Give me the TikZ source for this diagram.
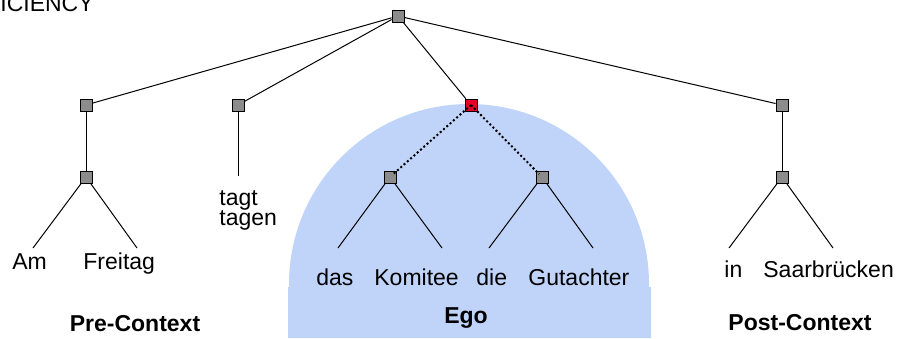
\documentclass[tikz,border=0pt]{standalone}
\usepackage{fontspec}
\setmainfont{Liberation Sans}
\usetikzlibrary{calc}
\definecolor{egoblau}{RGB}{192,212,250}
\definecolor{knotengrau}{RGB}{140,140,140}
\definecolor{knotenrot}{RGB}{230,0,40}
\tikzset{
knoten/.style = {draw=black, fill=knotengrau, minimum size=6pt, inner sep=0pt, line width=0.4pt}
}
\tikzset{
kante/.style = {line width=0.5pt}
}
\tikzset{
punktiert/.style = {line width=1pt, dash pattern=on 1pt off 1.2pt, shorten >=2pt}
}
\tikzset{
wort/.style = {anchor=base west, inner sep=0pt, font=\fontsize{11.5}{13.8}\selectfont}
}
\tikzset{
titel/.style = {anchor=base, inner sep=0pt, font=\fontsize{11.5}{13.8}\selectfont\bfseries}
}
\begin{document}
\begin{tikzpicture}[x=0.5pt,y=-0.5pt]
        \useasboundingbox (0,0) rectangle (900,338);

        % Ego-Bereich
        \fill[egoblau] (289,284) arc (180:360:180) -- (649,287) -- (651,287) -- (651,338)
            -- (288,338) -- (288,287) -- (289,287) -- cycle;

        \node[wort] (kopf) at (0,11) {ICIENCY};

        % Knoten
        \node[knoten] (wurzel) at (398,16) {};
        \node[knoten] (vf) at (86,105) {};
        \node[knoten] (vk) at (238,105) {};
        \node[knoten, fill=knotenrot] (ego) at (471,105) {};
        \node[knoten] (nk) at (782,105) {};
        \node[knoten] (vfa) at (86,177) {};
        \node[knoten] (egol) at (390,177) {};
        \node[knoten] (egor) at (542,177) {};
        \node[knoten] (nka) at (782,177) {};

        % Blattenden
        \coordinate (am) at (33,248);
        \coordinate (freitag) at (137,248);
        \coordinate (tagt) at (238,176);
        \coordinate (das) at (338,248);
        \coordinate (komitee) at (442,248);
        \coordinate (die) at (489,248);
        \coordinate (gutachter) at (593,248);
        \coordinate (in) at (729,248);
        \coordinate (saar) at (833,248);

        \draw[kante] (wurzel) -- (vf);
        \draw[kante] (wurzel) -- (vk);
        \draw[kante] (wurzel) -- (ego);
        \draw[kante] (wurzel) -- (nk);
        \draw[kante] (vf) -- (vfa);
        \draw[kante] (vk) -- (tagt);
        \draw[kante] (nk) -- (nka);
        \draw[kante] (vfa) -- (am);
        \draw[kante] (vfa) -- (freitag);
        \draw[kante] (egol) -- (das);
        \draw[kante] (egol) -- (komitee);
        \draw[kante] (egor) -- (die);
        \draw[kante] (egor) -- (gutachter);
        \draw[kante] (nka) -- (in);
        \draw[kante] (nka) -- (saar);

        \draw[punktiert] (ego.center) -- (egol.center);
        \draw[punktiert] (ego.center) -- (egor.center);

        % Woerter
        \node[wort] (w-am) at (12,269) {Am};
        \node[wort] (w-freitag) at (83,269) {Freitag};
        \node[wort] (w-tagt) at (219,205) {tagt};
        \node[wort] (w-tagen) at (219,225) {tagen};
        \node[wort] (w-das) at (316,285) {das};
        \node[wort] (w-komitee) at (374,285) {Komitee};
        \node[wort] (w-die) at (476,285) {die};
        \node[wort] (w-gutachter) at (528,285) {Gutachter};
        \node[wort] (w-in) at (724,277) {in};
        \node[wort] (w-saar) at (763,277) {Saarbrücken};

        \node[titel] (pre) at (135,331) {Pre-Context};
        \node[titel] (egot) at (466,323) {Ego};
        \node[titel] (post) at (800,330) {Post-Context};
\end{tikzpicture}
\end{document}
